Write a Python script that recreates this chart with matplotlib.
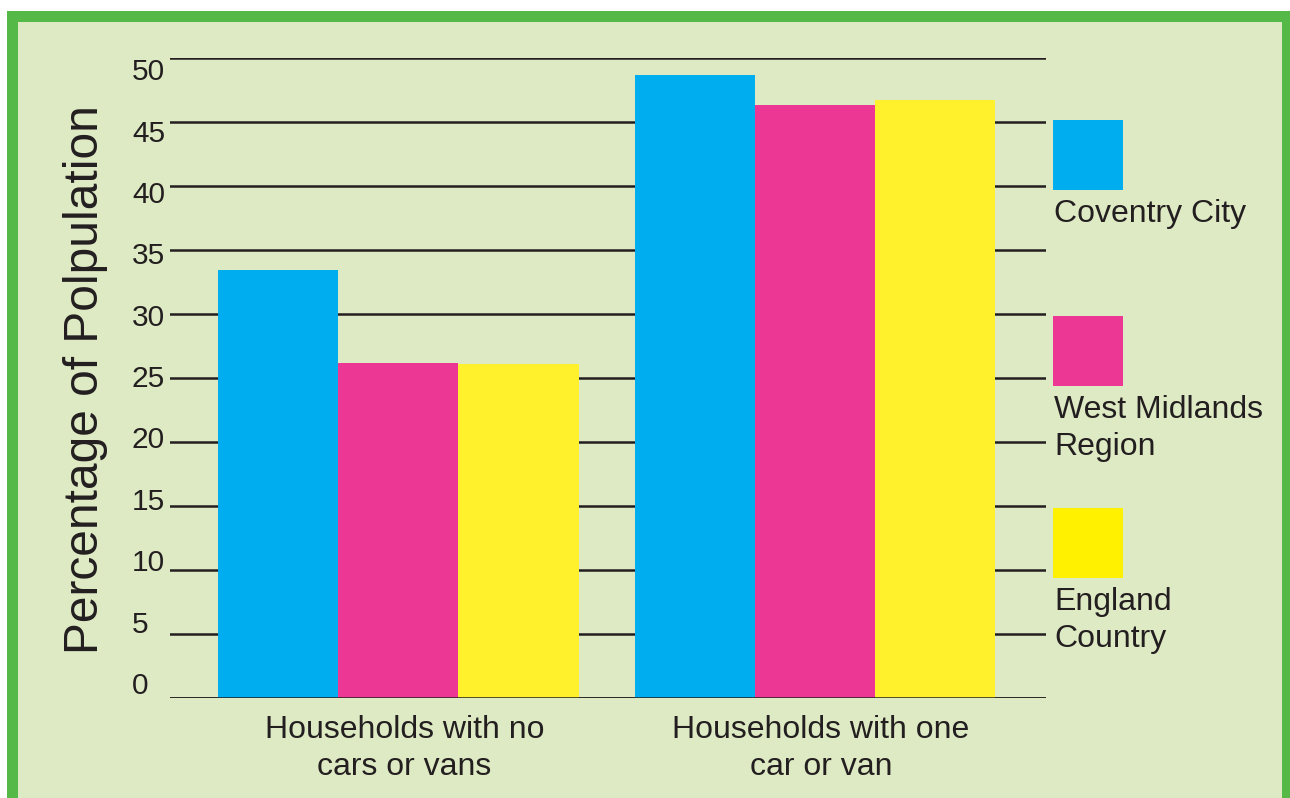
import matplotlib.pyplot as plt
from matplotlib.patches import Rectangle
from matplotlib.transforms import blended_transform_factory, ScaledTranslation
import numpy as np

plt.rcParams['font.family'] = ['Liberation Sans', 'DejaVu Sans']

categories = ["Households with no\ncars or vans", "Households with one\ncar or van"]
series = ["Coventry City", "West Midlands\nRegion", "England\nCountry"]
coventry = [33.4, 48.7]
west_midlands = [26.2, 46.3]
england = [26.1, 46.7]
yticks = [0, 5, 10, 15, 20, 25, 30, 35, 40, 45, 50]

bar_colors = ["#00AEEF", "#EC3894", "#FFF22D"]
key_colors = ["#00AEEF", "#EC3894", "#FFF100"]
ink = "#231F20"
bg = "#DEEAC3"
border = "#55B947"

W, H = 1290, 798
fig = plt.figure(figsize=(W / 100, H / 100), dpi=100, facecolor="white")

def px(x, y):
    # pixel (from top-left) -> figure fraction
    return x / W, 1 - y / H

# green frame and pale panel
fig.patches.append(Rectangle(px(7, 830), 1300 / W, 819 / H, transform=fig.transFigure,
                             facecolor=border, edgecolor="none", zorder=-2))
fig.patches.append(Rectangle(px(18, 830), (1282 - 18) / W, 808 / H, transform=fig.transFigure,
                             facecolor=bg, edgecolor="none", zorder=-1))

ax = fig.add_axes([170 / W, 100 / H, 876 / W, 640 / H])
ax.set_facecolor("none")

x = np.arange(len(categories))
w = 0.2885
for i, vals in enumerate([coventry, west_midlands, england]):
    ax.bar(x + (i - 1) * w, vals, width=w, color=bar_colors[i], zorder=2, linewidth=0)

ax.set_xlim(-0.548, 1.555)
ax.set_ylim(0, 50)
ax.set_yticks(yticks)
ax.set_yticklabels([])
ax.tick_params(axis="y", length=0)
ax.yaxis.grid(True, color=ink, linewidth=1.8)
ax.set_axisbelow(True)
ax.axhline(0, color=ink, linewidth=1.8, zorder=3)
for s in ax.spines.values():
    s.set_visible(False)

ax.set_xticks(x)
ax.set_xticklabels(categories, fontsize=23, color=ink, linespacing=1.32)
ax.tick_params(axis="x", length=0, pad=12)
# category labels sit a little right of the group centres
nudge = ScaledTranslation(6 / 100, 0, fig.dpi_scale_trans)
for lbl in ax.get_xticklabels():
    lbl.set_transform(lbl.get_transform() + nudge)

# y values sit left of the lines, slightly compressed
trans = blended_transform_factory(ax.transAxes, ax.transData)
for v in yticks:
    ax.text(-0.0434, 0.94 + 0.959 * v, str(v), transform=trans, ha="left", va="center",
            fontsize=21.5, color=ink)

fig.text(*px(85, 380), "Percentage of Polpulation", rotation=90, ha="center", va="center",
         fontsize=34.5, color=ink)

# key on the right
tops = [120, 316, 508]
for name, c, t in zip(series, key_colors, tops):
    fig.patches.append(Rectangle(px(1053, t + 70), 70 / W, 70 / H, transform=fig.transFigure,
                                 facecolor=c, edgecolor="none"))
    fig.text(*px(1054, t + 79), name, ha="left", va="top", fontsize=23, color=ink,
             linespacing=1.32)

fig.savefig("out.png", dpi=100, facecolor=fig.get_facecolor())
